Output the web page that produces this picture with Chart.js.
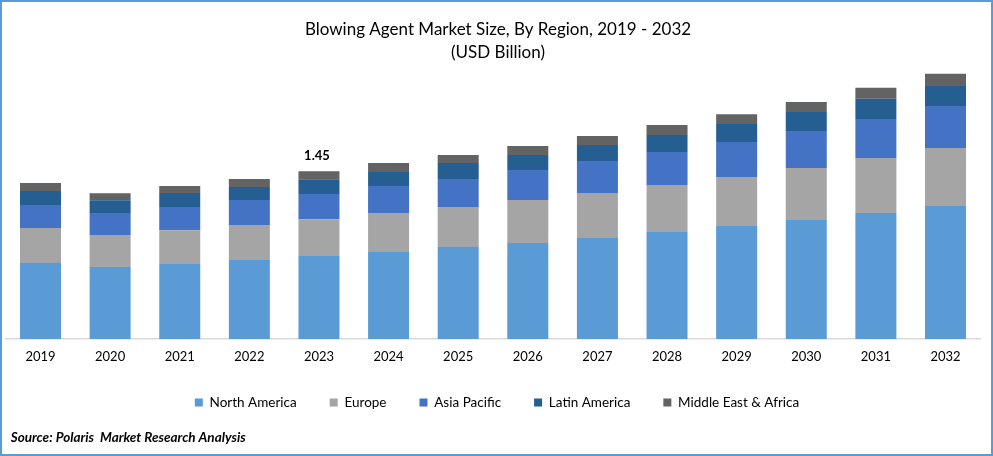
<!DOCTYPE html>
<html>
<head>
<meta charset="utf-8">
<style>
html,body{margin:0;padding:0;background:#fff;width:993px;height:456px;overflow:hidden}
#wrap{position:absolute;left:0;top:0;width:989px;height:452px;border:2px solid #5B9BD5;background:#fff}
canvas{display:block}
</style>
<script src="https://cdn.jsdelivr.net/npm/chart.js@4"></script>
</head>
<body>
<div id="wrap"><canvas id="c" width="989" height="452"></canvas></div>
<script>
const years = ["2019","2020","2021","2022","2023","2024","2025","2026","2027","2028","2029","2030","2031","2032"];
const northAmerica = [0.656,0.621,0.647,0.682,0.716,0.751,0.794,0.829,0.872,0.924,0.975,1.027,1.088,1.148];
const europe = [0.302,0.276,0.293,0.302,0.319,0.337,0.345,0.371,0.388,0.406,0.423,0.449,0.475,0.501];
const asiaPacific = [0.199,0.190,0.199,0.216,0.216,0.233,0.242,0.259,0.276,0.285,0.302,0.319,0.337,0.363];
const latinAmerica = [0.121,0.112,0.121,0.112,0.129,0.121,0.138,0.129,0.138,0.147,0.155,0.164,0.173,0.173];
const middleEastAfrica = [0.069,0.060,0.060,0.069,0.069,0.078,0.069,0.078,0.078,0.086,0.086,0.086,0.095,0.104];
const annotatedYear = "2023";
const annotatedLabel = "1.45";
const sourceText = "Source: Polaris  Market Research Analysis";
const FONT = "Lato, Carlito, sans-serif";

const valueLabel = {
  id: "valueLabel",
  afterLayout(chart) {
    chart.legend.top -= 12;
    chart.legend.bottom -= 12;
    chart.legend.left += 4;
    chart.legend.right += 4;
    const src = chart.boxes.find(b => b.options && b.options.text === sourceText);
    if (src) { src.left += 5; src.right += 5; src.top -= 1; src.bottom -= 1; }
    const ttl = chart.titleBlock;
    ttl.left += 5;
    ttl.right += 5;
  },
  afterDatasetsDraw(chart) {
    const i = years.indexOf(annotatedYear);
    const top = chart.getDatasetMeta(4).data[i];
    const ctx = chart.ctx;
    ctx.save();
    ctx.font = "bold 13px " + FONT;
    ctx.fillStyle = "#000";
    ctx.textAlign = "center";
    ctx.textBaseline = "middle";
    ctx.fillText(annotatedLabel, top.x - 2, top.y - 15);
    ctx.restore();
  }
};

new Chart(document.getElementById("c"), {
  type: "bar",
  data: {
    labels: years,
    datasets: [
      {label:"North America", data:northAmerica, backgroundColor:"#5B9BD5"},
      {label:"Europe", data:europe, backgroundColor:"#A5A5A5"},
      {label:"Asia Pacific", data:asiaPacific, backgroundColor:"#4472C4"},
      {label:"Latin America", data:latinAmerica, backgroundColor:"#255E91"},
      {label:"Middle East & Africa", data:middleEastAfrica, backgroundColor:"#636363"}
    ]
  },
  options: {
    responsive: false,
    animation: false,
    devicePixelRatio: 1,
    layout: {padding: {left: 3.7, right: 10.7, top: 0, bottom: 0}},
    datasets: {bar: {categoryPercentage: 1, barPercentage: 0.589, borderWidth: 0}},
    scales: {
      x: {
        stacked: true,
        grid: {display: false, drawTicks: false},
        border: {color: "#D9D9D9", width: 1.5},
        ticks: {color: "#000", font: {family: FONT, size: 13}, padding: 10, maxRotation: 0, autoSkip: false}
      },
      y: {stacked: true, display: false, min: 0, max: 2.323}
    },
    plugins: {
      title: {
        display: true,
        text: ["Blowing Agent Market Size, By Region, 2019 - 2032", "(USD Billion)"],
        color: "#000",
        font: {family: FONT, size: 17, weight: "normal", lineHeight: 1.35},
        padding: {top: 16, bottom: 6}
      },
      legend: {
        position: "bottom",
        labels: {color: "#000", font: {family: FONT, size: 13.5}, boxWidth: 8, boxHeight: 8, padding: 33}
      },
      subtitle: {
        display: true,
        position: "bottom",
        align: "start",
        text: sourceText,
        color: "#000",
        font: {family: FONT, size: 13.5, weight: "bold", style: "italic", lineHeight: 1.1},
        padding: {top: 0, bottom: 8}
      },
      tooltip: {enabled: false}
    }
  },
  plugins: [valueLabel]
});
</script>
</body>
</html>
